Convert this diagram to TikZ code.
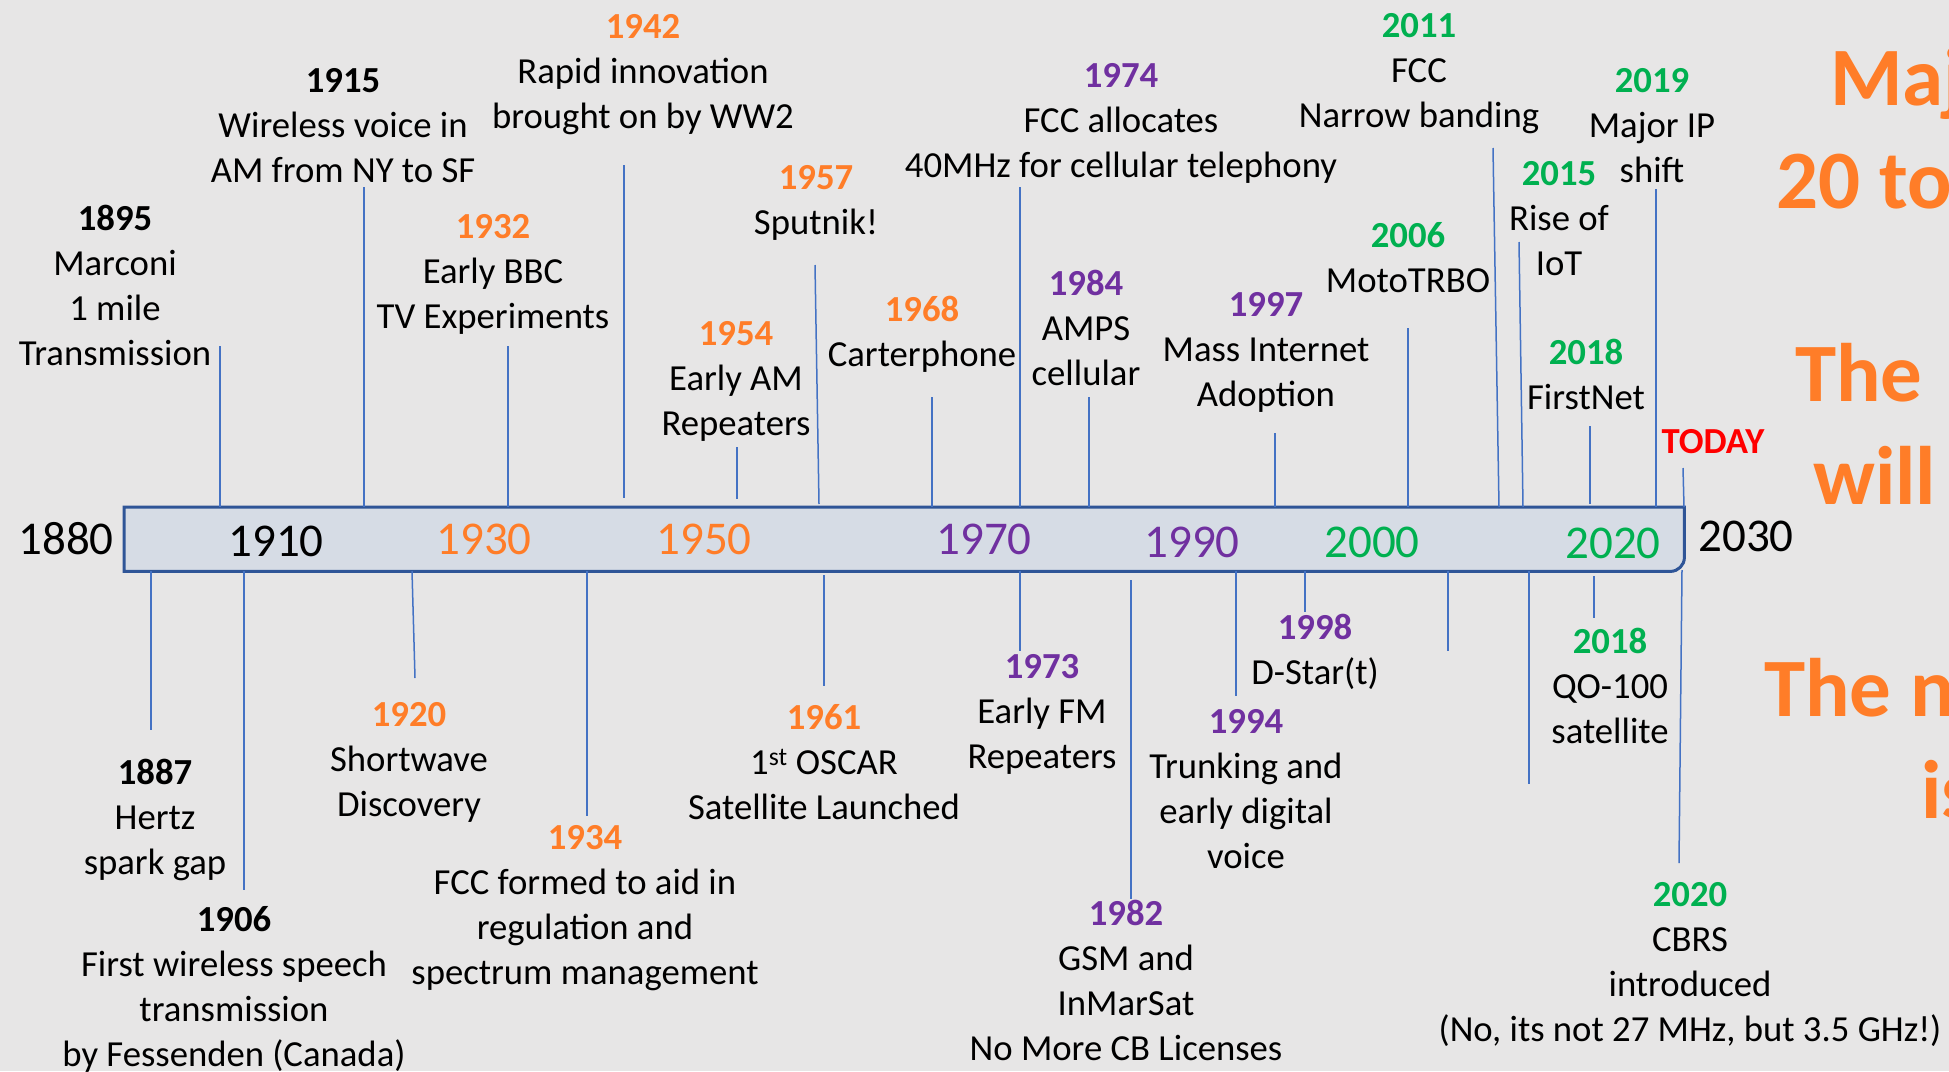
\documentclass[tikz,border=0pt]{standalone}
\usepackage{fontspec}
\setmainfont{Carlito}
\usepackage{tikz}

\definecolor{bgcolor}{HTML}{E7E6E6}
\definecolor{barfill}{HTML}{D6DCE5}
\definecolor{barblue}{HTML}{2F5597}
\definecolor{tickblue}{HTML}{4472C4}
\definecolor{hamorange}{HTML}{FF7D28}
\definecolor{hampurple}{HTML}{7030A0}
\definecolor{hamgreen}{HTML}{00B050}
\definecolor{todayred}{HTML}{FF0000}

\newcommand{\evfont}{\fontsize{36.7}{44.8}\selectfont}
\newcommand{\decfont}{\fontsize{47}{56}\selectfont}
\newcommand{\shoutfont}{\fontsize{83}{100}\selectfont\bfseries}
\newcommand{\evyear}[2]{{\bfseries\color{#1}#2}}

\begin{document}
\begin{tikzpicture}[x=1pt, y=-1pt,
                    every node/.style={inner sep=0pt, font=\evfont},
                    event/.style={align=center, anchor=base},
                    tick/.style={draw=tickblue, line width=1.5pt},
                    decade/.style={anchor=base, font=\decfont},
                    shout/.style={anchor=base west, font=\shoutfont, text=hamorange}]
    \tikzstyle{barframe}=[draw=barblue, line width=3pt, fill=barfill]

    \fill[bgcolor] (0,0) rectangle (1949,1071);
    \useasboundingbox (0,0) rectangle (1949,1071);

    % the time bar
    \node[minimum width=1560pt, minimum height=64pt, anchor=north west] (bar) at (124,507) {};
    \path[barframe] (bar.north west) -- (bar.north east) [rounded corners=14pt]
        -- (bar.south east) [sharp corners] -- (bar.south west) -- cycle;

    \node[decade]                  (d1880) at (66,554)   {1880};
    \node[decade]                  (d1910) at (276,556)  {1910};
    \node[decade, text=hamorange]  (d1930) at (484,554)  {1930};
    \node[decade, text=hamorange]  (d1950) at (704,554)  {1950};
    \node[decade, text=hampurple]  (d1970) at (984,554)  {1970};
    \node[decade, text=hampurple]  (d1990) at (1192,557) {1990};
    \node[decade, text=hamgreen]   (d2000) at (1372,557) {2000};
    \node[decade, text=hamgreen]   (d2020) at (1613,558) {2020};
    \node[decade]                  (d2030) at (1746,551) {2030};

    % events above the bar (placed by the baseline of their last line)
    \node[event] (e1895) at (115,365)  {\evyear{black}{1895}\\Marconi\\1 mile\\Transmission};
    \node[event] (e1915) at (343,182)  {\evyear{black}{1915}\\Wireless voice in\\AM from NY to SF};
    \node[event] (e1932) at (493,328)  {\evyear{hamorange}{1932}\\Early BBC\\TV Experiments};
    \node[event] (e1942) at (643,128)  {\evyear{hamorange}{1942}\\Rapid innovation\\brought on by WW2};
    \node[event] (e1954) at (736,435)  {\evyear{hamorange}{1954}\\Early AM\\Repeaters};
    \node[event] (e1957) at (816,234)  {\evyear{hamorange}{1957}\\Sputnik!};
    \node[event] (e1968) at (922,366)  {\evyear{hamorange}{1968}\\Carterphone};
    \node[event] (e1974) at (1121,177) {\evyear{hampurple}{1974}\\FCC allocates\\40MHz for cellular telephony};
    \node[event] (e1984) at (1086,385) {\evyear{hampurple}{1984}\\AMPS\\cellular};
    \node[event] (e1997) at (1266,406) {\evyear{hampurple}{1997}\\Mass Internet\\Adoption};
    \node[event] (e2006) at (1408,292) {\evyear{hamgreen}{2006}\\MotoTRBO};
    \node[event] (e2011) at (1419,127) {\evyear{hamgreen}{2011}\\FCC\\Narrow banding};
    \node[event] (e2015) at (1559,275) {\evyear{hamgreen}{2015}\\Rise of\\IoT};
    \node[event] (e2018a) at (1586,409) {\evyear{hamgreen}{2018}\\FirstNet};
    \node[event] (e2019) at (1652,182) {\evyear{hamgreen}{2019}\\Major IP\\shift};
    \node[event] (today) at (1713,453) {\evyear{todayred}{TODAY}};

    % events below the bar
    \node[event] (e1887) at (155,874)  {\evyear{black}{1887}\\Hertz\\spark gap};
    \node[event] (e1906) at (234,1066) {\evyear{black}{1906}\\First wireless speech\\transmission\\by Fessenden (Canada)};
    \node[event] (e1920) at (409,816)  {\evyear{hamorange}{1920}\\Shortwave\\Discovery};
    \node[event] (e1934) at (585,984)  {\evyear{hamorange}{1934}\\FCC formed to aid in\\regulation and\\spectrum management};
    \node[event] (e1961) at (824,819)  {\evyear{hamorange}{1961}\\1\textsuperscript{st} OSCAR\\Satellite Launched};
    \node[event] (e1973) at (1042,768) {\evyear{hampurple}{1973}\\Early FM\\Repeaters};
    \node[event] (e1982) at (1126,1060) {\evyear{hampurple}{1982}\\GSM and\\InMarSat\\No More CB Licenses};
    \node[event] (e1994) at (1246,868) {\evyear{hampurple}{1994}\\Trunking and\\early digital\\voice};
    \node[event] (e1998) at (1315,684) {\evyear{hampurple}{1998}\\D-Star(t)};
    \node[event] (e2018b) at (1610,743) {\evyear{hamgreen}{2018}\\QO-100\\satellite};
    \node[event] (e2020) at (1690,1041) {\evyear{hamgreen}{2020}\\CBRS\\introduced\\(No, its not 27 MHz, but 3.5 GHz!)};

    % free ends of the ticks
    \coordinate (t1895) at (220,346);
    \coordinate (t1915) at (364,187);
    \coordinate (t1932) at (508,346);
    \coordinate (t1942) at (624,165);
    \coordinate (b1942) at (624,498);
    \coordinate (t1954) at (737,447);
    \coordinate (b1954) at (737,499);
    \coordinate (t1957) at (815,265);
    \coordinate (b1957) at (819,504);
    \coordinate (t1968) at (932,397);
    \coordinate (t1974) at (1020,187);
    \coordinate (t1984) at (1089,397);
    \coordinate (t1997) at (1275,433);
    \coordinate (t2006) at (1408,328);
    \coordinate (t2011) at (1493,148);
    \coordinate (b2011) at (1499,507);
    \coordinate (t2015) at (1519,242);
    \coordinate (b2015) at (1523,507);
    \coordinate (t2018a) at (1590,426);
    \coordinate (b2018a) at (1590,504);
    \coordinate (t2019) at (1656,189);
    \coordinate (ttoday) at (1683,468);
    \coordinate (btoday) at (1684,507);

    \coordinate (b1887) at (151,730);
    \coordinate (b1906) at (244,890);
    \coordinate (t1920) at (412,571);
    \coordinate (b1920) at (415,678);
    \coordinate (b1934) at (587,816);
    \coordinate (t1961) at (824,575);
    \coordinate (b1961) at (824,686);
    \coordinate (b1973) at (1020,651);
    \coordinate (t1982) at (1131,580);
    \coordinate (b1982) at (1131,899);
    \coordinate (b1994) at (1236,696);
    \coordinate (b1998) at (1305,612);
    \coordinate (bfree1) at (1448,651);
    \coordinate (t2018b) at (1594,576);
    \coordinate (b2018b) at (1594,618);
    \coordinate (bfree2) at (1529,784);
    \coordinate (t2020) at (1682,570);
    \coordinate (b2020) at (1679,863);

    \draw[tick] (t1895) -- (t1895 |- bar.north);
    \draw[tick] (t1915) -- (t1915 |- bar.north);
    \draw[tick] (t1932) -- (t1932 |- bar.north);
    \draw[tick] (t1942) -- (b1942);
    \draw[tick] (t1954) -- (b1954);
    \draw[tick] (t1957) -- (b1957);
    \draw[tick] (t1968) -- (t1968 |- bar.north);
    \draw[tick] (t1974) -- (t1974 |- bar.north);
    \draw[tick] (t1984) -- (t1984 |- bar.north);
    \draw[tick] (t1997) -- (t1997 |- bar.north);
    \draw[tick] (t2006) -- (t2006 |- bar.north);
    \draw[tick] (t2011) -- (b2011);
    \draw[tick] (t2015) -- (b2015);
    \draw[tick] (t2018a) -- (b2018a);
    \draw[tick] (t2019) -- (t2019 |- bar.north);
    \draw[tick] (ttoday) -- (btoday);

    \draw[tick] (b1887 |- bar.south) -- (b1887);
    \draw[tick] (b1906 |- bar.south) -- (b1906);
    \draw[tick] (t1920) -- (b1920);
    \draw[tick] (b1934 |- bar.south) -- (b1934);
    \draw[tick] (t1961) -- (b1961);
    \draw[tick] (b1973 |- bar.south) -- (b1973);
    \draw[tick] (t1982) -- (b1982);
    \draw[tick] (b1994 |- bar.south) -- (b1994);
    \draw[tick] (b1998 |- bar.south) -- (b1998);
    \draw[tick] (bfree1 |- bar.south) -- (bfree1);
    \draw[tick] (bfree2 |- bar.south) -- (bfree2);
    \draw[tick] (t2018b) -- (b2018b);
    \draw[tick] (t2020) -- (b2020);

    % big message, cut off at the right edge
    \node[shout] (m1) at (1830,105) {Maj};
    \node[shout] (m2) at (1776,208) {20 to};
    \node[shout] (m3) at (1795,401) {The};
    \node[shout] (m4) at (1813,504) {will};
    \node[shout] (m5) at (1764,716) {The n};
    \node[shout] (m6) at (1921,818) {is};
\end{tikzpicture}
\end{document}
